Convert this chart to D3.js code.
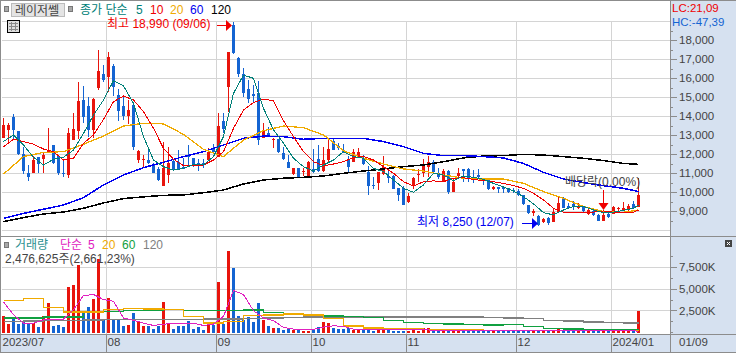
<!DOCTYPE html>
<html>

<head>
	<meta charset="utf-8">
	<title>레이저쎌</title>
	<script src="https://cdn.jsdelivr.net/npm/d3@7/dist/d3.min.js"></script>
	<style>
		html, body { margin: 0; padding: 0; background: #fff; overflow: hidden; }
		svg { display: block; }
		text { font-family: "Liberation Sans", "Noto Sans CJK KR", sans-serif; }
	</style>
</head>

<body>
	<svg id="chart" width="736" height="353"></svg>

	<script>
		/////////////////////////////////////////////////////////////
		//Values

		const open = [12890,13290,13960,13240,12010,11040,11040,11850,11760,12100,
			12500,11940,11040,10920,12760,13250,14870,14550,13290,15480,
			16240,16100,16660,15130,14550,14040,14610,11710,11750,11710,
			11450,11220,10360,10920,11660,11590,11360,11970,11800,11530,
			11530,11710,12320,11890,13780,15570,18820,17060,16240,15430,
			15170,15220,12890,13110,12760,12820,12060,11620,10970,11310,
			11110,10870,11220,11750,11130,11710,12730,12470,12240,11750,
			11590,11830,11800,11100,10380,10480,10970,10870,10870,10220,
			10220,9520,10360,10940,11010,11320,11620,11040,10620,11150,
			10050,10870,11220,11220,10830,10920,10780,10660,10180,10270,
			10290,10250,10130,10100,9870,9340,8940,8760,8470,8680,
			8470,8990,9730,9310,9400,9170,9260,8870,9050,8820,
			8520,8870,8870,9110,9080,9080,9380,9260];
		const high = [13900,13640,14130,13240,12410,11450,11920,11850,12150,13380,
			12500,11940,11680,13380,14170,15830,15610,15040,14950,17500,
			16710,17410,16760,15430,15040,14870,14690,12240,11970,12240,
			11570,11360,12680,12410,11750,12240,11800,12500,11800,11750,
			11750,12320,12550,14200,14170,17410,18990,17110,16530,15920,
			15660,15870,13640,13470,12850,12820,12410,11970,11310,11310,
			11270,11660,12270,12500,12410,12850,12800,12620,12540,11920,
			12270,12360,11970,11400,10830,11100,11920,11150,10920,10220,
			10340,9960,10800,11220,11750,11920,11710,11270,11220,11180,
			10750,11270,11220,11270,11180,11220,10780,10660,10340,10310,
			10310,10250,10220,10170,9870,9340,9110,8820,8680,8730,
			9170,9780,9780,9430,9550,9430,9290,9170,9130,8870,
			9080,8940,9290,9260,9520,9380,9550,10750];
		const low = [12850,12590,12800,11970,10970,10610,11010,11040,11040,12100,
			11500,10920,10800,10780,12760,12800,13640,12940,12850,15390,
			15830,15310,15080,13780,13820,13610,12240,11570,11360,11500,
			11010,10620,10360,10520,11180,11180,11240,11360,11360,11150,
			11270,11710,12150,11890,13110,14250,17290,16060,15040,14690,
			14690,12500,12890,12970,12320,12060,11710,11270,10920,10830,
			10890,10870,11040,11100,11100,11620,12240,12240,12060,11100,
			11590,11800,11450,9870,10170,10130,10920,10480,10170,9550,
			9340,9430,10170,10570,10830,10830,11040,10690,10570,9920,
			10050,10830,10570,10570,10480,10690,10400,10130,10130,9960,
			9990,9960,9960,9820,9340,8870,8760,8250,8380,8290,
			8470,8990,9170,9170,9080,9110,8990,8820,8760,8500,
			8500,8640,8870,8990,9050,9050,9110,9260];
		const close = [13550,13550,13290,12010,11150,10800,11710,11500,11970,12200,
			11530,11010,11010,13110,13320,14820,13990,13290,14920,16410,
			15920,17150,15530,14310,14040,14340,12410,12180,11760,11530,
			11040,10660,11270,11530,11180,11240,11240,11890,11410,11410,
			11500,12110,12150,13500,13320,17410,17320,16240,15250,14900,
			15100,12760,13290,13030,12820,12110,11760,11310,11310,10830,
			11150,11620,11100,11130,11710,12270,12240,12320,12100,11360,
			12150,12150,11500,10360,10330,11100,11360,10750,10170,9870,
			9340,9820,10750,10970,11500,11590,11100,10800,11150,10050,
			10570,11040,11150,10750,10710,10830,10660,10170,10270,10200,
			10200,10010,10080,9870,9400,8900,9030,8290,8610,8380,
			8990,9470,9170,9200,9260,9310,9050,9080,8820,8520,
			8820,8730,9260,9170,9170,9310,9170,9870];
		const volume = [1860,1010,1670,1010,1200,1090,1090,660,1940,3450,
			780,890,580,5230,5430,7790,2250,2910,3910,8450,
			1550,3990,1550,1470,700,890,2210,1200,700,700,
			430,700,3570,1010,430,780,780,1360,430,580,
			310,970,810,5810,1010,9420,7400,1860,1470,1740,
			1200,3450,1470,780,540,540,310,500,310,310,
			190,190,390,660,1240,1120,540,430,430,540,
			310,390,310,660,190,470,470,390,190,190,
			190,190,430,230,540,540,310,190,310,310,
			190,190,190,230,190,150,190,150,150,150,
			190,150,190,230,310,310,120,230,190,190,
			150,540,230,270,190,150,190,150,150,190,
			120,120,150,120,120,120,150,2477];

		// moving averages are read at every 2nd candle (fast ones) or every 4th (slow ones)
		const every2 = d3.range(0, 127, 2).concat(127);
		const every4 = d3.range(0, 127, 4).concat(127);

		const ma5 = [12680,13030,12500,11850,11450,11750,11850,12240,13110,14080,
			14870,15890,15610,14690,12940,11710,11360,11180,11270,11480,
			11450,11890,12940,15220,16180,16010,14430,13290,12590,11800,
			11360,11130,11450,11710,12150,11890,11800,11270,11100,10660,
			10220,10010,10400,11010,10920,10620,10870,10800,10690,10480,
			10290,10080,9780,9400,8940,8820,9080,9260,9260,9080,
			8940,8970,9060,9170,9340];
		const ma10 = [12410,12800,12680,12540,12290,12150,11710,11800,12590,13030,
			13850,14780,15080,14870,14250,13380,12320,11750,11410,11410,
			11450,11710,12150,13380,14340,14730,14920,14830,13780,12940,
			12150,11620,11410,11500,11620,11850,11890,11710,11360,11010,
			10570,10340,10570,10610,10570,10750,10780,10690,10620,10570,
			10480,10360,10220,9960,9610,9170,8960,8960,8940,8970,
			9030,8960,8940,8960,9080];
		const ma20 = [10970,11890,12110,12150,12540,12970,13500,13640,13610,13060,
			12270,11890,12760,13250,13500,13410,13030,12200,11800,11500,
			11240,11130,10920,10750,10710,10710,10480,10050,9690,9260,
			8990,8960,9080];
		const ma60 = [8640,8900,9120,9340,9730,10400,10920,11310,11590,11890,
			12150,12500,12850,12970,12940,12800,12850,12850,12850,12680,
			12410,12060,11940,11940,11890,11820,11530,11060,10710,10520,
			10360,10220,10050];
		const ma120 = [8470,8680,8870,8970,9170,9450,9680,9770,9850,9870,
			9990,10130,10450,10660,10750,10800,10870,11010,11130,11240,
			11360,11450,11620,11820,11920,11940,12010,11970,11890,11800,
			11680,11530,11480];

		const volMa5 = [3530,2050,1090,1090,1470,1550,1550,2640,4260,4380,
			3800,3600,1670,1400,1090,810,970,1010,1010,1090,
			810,970,1860,4850,4380,2520,1670,1360,580,390,
			310,350,620,780,700,390,390,390,390,310,
			310,310,310,270,230,190,190,190,190,190,
			190,190,190,190,190,190,190,190,190,190,
			190,190,190,190,160];
		const volMa20 = [3720,3910,2910,2360,2360,2670,2750,2710,2640,1860,
			1090,1280,1940,2020,2130,2020,1590,740,540,470,
			430,350,310,270,230,230,230,230,230,230,
			230,230,310];
		const volMa60 = [1670,1670,1780,1780,2360,2440,2520,2560,2640,2520,
			2520,2560,2600,2330,2130,1940,1900,1860,1710,1400,
			1120,1010,970,890,850,890,660,430,390,350,
			310,310,310];
		const volMa120 = [1280,1320,1360,1360,1430,1470,1470,1470,1470,1510,
			1550,1550,1590,1670,1740,1780,1780,1780,1780,1780,
			1780,1780,1780,1780,1740,1670,1590,1400,1320,1200,
			1120,1090,1090];

		const monthIndex = [0, 21, 43, 62, 81, 103, 122];
		const monthLabels = ["2023/07", "08", "09", "10", "11", "12", "2024/01"];
		const priceTicks = [9000, 10000, 11000, 12000, 13000, 14000, 15000, 16000, 17000, 18000];
		const priceGrid = [8000, 9000, 10000, 11000, 12000, 13000, 14000, 15000, 16000, 17000, 18000, 19000];
		const priceMinor = [8500, 9500, 10500, 11500, 12500, 13500, 14500, 15500, 16500, 17500, 18500];
		const volTicks = [2500, 5000, 7500];
		const volMinor = [0, 1250, 3750, 6250, 8750];

		/////////////////////////////////////////////////////////////
		//Scales

		const red = "#e8140c", blue = "#1464d2", panel = "#d6e1f0", border = "#8c8c8c", grid = "#d4d4d4", ink = "#444";

		const x = d3.scaleLinear().domain([0, 127]).range([3.5, 638.5]);
		const y = d3.scaleLinear().domain([8000, 19000]).range([230.5, 21.5]);
		const yVol = d3.scaleLinear().domain([0, 7500]).range([332.5, 267.5]);

		const svg = d3.select("#chart");
		const n = d3.range(open.length);
		const isUp = i => close[i] >= open[i];

		// right panel and date band go under everything
		svg.append("rect").attr("x", 670).attr("y", 0).attr("width", 66).attr("height", 353).attr("fill", panel);
		svg.append("rect").attr("x", 0).attr("y", 334).attr("width", 736).attr("height", 18).attr("fill", panel);

		/////////////////////////////////////////////////////////////
		//Grid

		const gridG = svg.append("g").attr("stroke", grid).attr("shape-rendering", "crispEdges");
		gridG.selectAll(".gy").data(priceGrid).join("line").attr("class", "gy")
			.attr("x1", 2).attr("x2", 670).attr("y1", d => y(d)).attr("y2", d => y(d));
		gridG.selectAll(".gv").data(volTicks).join("line").attr("class", "gv")
			.attr("x1", 2).attr("x2", 670).attr("y1", d => yVol(d)).attr("y2", d => yVol(d));
		gridG.selectAll(".gm").data(monthIndex.slice(1)).join("line").attr("class", "gm")
			.attr("x1", d => x(d) - 2).attr("x2", d => x(d) - 2).attr("y1", 21.5).attr("y2", 334);

		/////////////////////////////////////////////////////////////
		//Candles

		const candles = svg.append("g").attr("shape-rendering", "crispEdges");
		candles.selectAll("line").data(n).join("line")
			.attr("x1", i => x(i)).attr("x2", i => x(i))
			.attr("y1", i => y(high[i])).attr("y2", i => y(low[i]))
			.attr("stroke", i => isUp(i) ? red : blue);
		candles.selectAll("rect").data(n).join("rect")
			.attr("x", i => x(i) - 1.5).attr("width", 3)
			.attr("y", i => Math.min(y(open[i]), y(close[i])))
			.attr("height", i => Math.max(1, Math.abs(y(open[i]) - y(close[i]))))
			.attr("fill", i => isUp(i) ? red : blue);

		const lineOf = (idx, scale, curve = d3.curveLinear) => d3.line().curve(curve).x((d, k) => x(idx[k])).y(d => scale(d));
		const priceLines = [
			[ma120, every4, "#000", 1.5],
			[ma60, every4, "#0000f0", 1.5],
			[ma20, every4, "#f0aa00", 1.3],
			[ma10, every2, "#f00000", 1],
			[ma5, every2, "#008078", 1]
		];
		svg.append("g").attr("fill", "none").attr("shape-rendering", "crispEdges")
			.selectAll("path").data(priceLines).join("path")
			.attr("d", d => lineOf(d[1], y)(d[0]))
			.attr("stroke", d => d[2]).attr("stroke-width", d => d[3]);

		/////////////////////////////////////////////////////////////
		//Volume

		svg.append("g").attr("shape-rendering", "crispEdges")
			.selectAll("rect").data(n).join("rect")
			.attr("x", i => x(i) - 1.5).attr("width", 3)
			.attr("y", i => yVol(volume[i]))
			.attr("height", i => yVol(0) - yVol(volume[i]))
			.attr("fill", i => isUp(i) ? red : blue);

		const volLines = [
			[volMa120, every4, "#808080", d3.curveStepAfter, 1.4],
			[volMa60, every4, "#10a040", d3.curveStepAfter, 1.4],
			[volMa20, every4, "#f0aa00", d3.curveStepAfter, 1.4],
			[volMa5, every2, "#e020c0", d3.curveLinear, 1]
		];
		svg.append("g").attr("fill", "none").attr("shape-rendering", "crispEdges")
			.selectAll("path").data(volLines).join("path")
			.attr("d", d => lineOf(d[1], yVol, d[3])(d[0]))
			.attr("stroke", d => d[2]).attr("stroke-width", d => d[4]);

		/////////////////////////////////////////////////////////////
		//Axes

		function styleAxis(g) {
			g.select(".domain").remove();
			g.selectAll("line").attr("stroke", border).attr("shape-rendering", "crispEdges");
			g.selectAll("text").attr("fill", ink).attr("font-size", 11.5).attr("font-family", "Liberation Sans");
		}

		svg.append("g").attr("transform", "translate(671,0)")
			.call(d3.axisRight(y).offset(0).tickValues(priceTicks).tickSize(6).tickPadding(2).tickFormat(d3.format(",")))
			.call(styleAxis);
		svg.append("g").attr("transform", "translate(671,0)")
			.call(d3.axisRight(y).offset(0).tickValues(priceMinor).tickSize(2).tickFormat(""))
			.call(styleAxis);
		svg.append("g").attr("transform", "translate(671,0)")
			.call(d3.axisRight(yVol).offset(0).tickValues(volTicks).tickSize(6).tickPadding(2).tickFormat(d => d3.format(",")(d) + "K"))
			.call(styleAxis);
		svg.append("g").attr("transform", "translate(671,0)")
			.call(d3.axisRight(yVol).offset(0).tickValues(volMinor).tickSize(2).tickFormat(""))
			.call(styleAxis);

		svg.append("g").attr("transform", "translate(0,334)")
			.call(d3.axisBottom(x).offset(0).tickValues(monthIndex).tickSize(18).tickFormat((d, k) => monthLabels[k]))
			.call(styleAxis)
			.call(g => g.selectAll("line").attr("x1", -2).attr("x2", -2).attr("stroke-width", 1)
				.filter(d => d === 0).remove())
			.call(g => g.selectAll("text").attr("x", -1).attr("y", 8).attr("dy", "0.36em").attr("text-anchor", "start"));

		svg.append("text").attr("x", 679).attr("y", 346).attr("fill", ink).attr("font-size", 11.5).text("01/09");

		// panel borders
		const frame = svg.append("g").attr("stroke", border).attr("shape-rendering", "crispEdges");
		[[0.5, 0, 0.5, 353], [0, 0.5, 736, 0.5], [0, 236.5, 736, 236.5], [0, 334.5, 736, 334.5], [0, 352.5, 736, 352.5], [670.5, 0, 670.5, 353]]
			.forEach(s => frame.append("line").attr("x1", s[0]).attr("y1", s[1]).attr("x2", s[2]).attr("y2", s[3]));

		/////////////////////////////////////////////////////////////
		//Header, legends and notes

		function label(str, px, py, color, size = 12) {
			return svg.append("text").attr("x", px).attr("y", py)
				.attr("fill", color).attr("font-size", size).text(str);
		}

		function square(px, py) {
			svg.append("rect").attr("x", px + 0.5).attr("y", py + 0.5).attr("width", 4).attr("height", 5)
				.attr("fill", "#a8a8a8").attr("stroke", "#777");
		}

		square(4, 6);
		svg.append("rect").attr("x", 11.5).attr("y", 3.5).attr("width", 53).attr("height", 13)
			.attr("fill", "#e4e4e4").attr("stroke", "#bbb");
		label("레이저쎌", 15, 14.5, "#444", 12);
		square(68, 6);

		label("종가 단순", 80, 14, "#008078");
		label("5", 136, 14, "#008078");
		label("10", 150, 14, "#f00000");
		label("20", 170, 14, "#f0aa00");
		label("60", 190, 14, "#0000f0");
		label("120", 211, 14, "#000");

		// small table icon
		const icon = svg.append("g").attr("shape-rendering", "crispEdges");
		icon.append("rect").attr("x", 7.5).attr("y", 20.5).attr("width", 12).attr("height", 12).attr("fill", "#ddd").attr("stroke", "#000");
		icon.append("path").attr("d", "M9 23.5H18M9 26.5H18M9 29.5H18M11.5 22V31M15.5 22V31").attr("stroke", "#888").attr("fill", "none");

		label("최고 18,990 (09/06)", 107, 28, "#f00000");
		svg.append("path").attr("d", "M217 25.5H226").attr("stroke", "#f00000").attr("stroke-width", 1);
		svg.append("path").attr("d", "M226 20L232 25.5L226 31Z").attr("fill", "#f00000");

		label("최저 8,250 (12/07)", 417, 226, "#0000f0");
		svg.append("path").attr("d", "M522 223.5H532").attr("stroke", "#0000f0").attr("stroke-width", 1);
		svg.append("path").attr("d", "M532 218L538 223.5L532 229Z").attr("fill", "#0000f0");

		label("배당락(0.00%)", 565, 186, "#444");
		svg.append("path").attr("d", `M${x(120)} 190V203`).attr("stroke", "#f00000").attr("stroke-width", 1);
		svg.append("path").attr("d", `M${x(120) - 5} 203H${x(120) + 5}L${x(120)} 210Z`).attr("fill", "#f00000");

		label("LC:21,09", 672, 12, "#f00000", 11.5);
		label("HC:-47,39", 672, 25.5, blue, 11.5);

		square(4, 242);
		label("거래량", 15, 248.5, "#2a9090");
		label("단순", 60, 248.5, "#e020c0");
		label("5", 88, 248.5, "#e020c0");
		label("20", 102, 248.5, "#f0aa00");
		label("60", 122, 248.5, "#10a040");
		label("120", 143, 248.5, "#808080");
		label("2,476,625주(2,661,23%)", 5, 262.5, "#444");

		// expand button in the corner
		svg.append("rect").attr("x", 725).attr("y", 240).attr("width", 7).attr("height", 7).attr("fill", "#444");
		svg.append("path").attr("d", "M727 242L730 245M730 242L727 245").attr("stroke", "#fff").attr("stroke-width", 1);
	</script>
</body>

</html>
